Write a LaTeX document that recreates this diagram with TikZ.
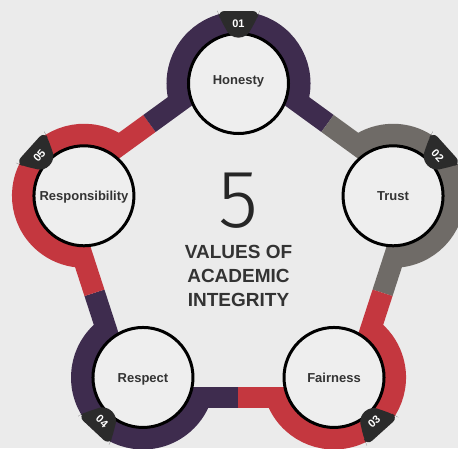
\documentclass[tikz,border=0pt]{standalone}
\usepackage{fontspec}
\setmainfont{Liberation Sans}
\newfontfamily\fivefont{Fira Sans Light}
\usetikzlibrary{calc}
\definecolor{bg}{HTML}{EBEBEB}
\definecolor{cfill}{HTML}{EEEEEE}
\definecolor{cpur}{HTML}{3E2C4E}
\definecolor{cred}{HTML}{C4373F}
\definecolor{cgray}{HTML}{6F6B67}
\definecolor{cbadge}{HTML}{2B2B2B}
\definecolor{ctext}{HTML}{333333}
\newcommand\myband[4]{%
  \path ($(#1)!20pt!90:(#2)$) coordinate (ba)
        ($(#2)!20pt!-90:(#1)$) coordinate (bb);
  \path ($(ba)!0.5!(bb)$) coordinate (bm);
  \draw[bandline,#3] (ba) -- (bm);
  \draw[bandline,#4] (bm) -- (bb);}
\newcommand\myring[3]{%
  \draw[bandline,#3] ($(#1)+(#2-107:61.5)$) arc[start angle=#2-107, end angle=#2+107, radius=61.5];}
\newcommand\mybadge[5]{%
  \begin{scope}[shift={($(#1)+(#2:60)$)}, rotate=#2-90]
    \fill[cbadge, rounded corners=7pt] (-21,12.5) -- (21,12.5) -- (19,6) -- (8,-14) -- (-8,-14) -- (-19,6) -- cycle;
  \end{scope}
  \node[badgetext, rotate=#3] (#5) at ($(#1)+(#2:60)$) {#4};}
\begin{document}
\begin{tikzpicture}[x=1pt,y=1pt,
  bandline/.style={line width=21pt, line cap=butt},
  valbox/.style={circle, draw=black, line width=3pt, fill=cfill, minimum size=100pt, inner sep=0pt},
  vallabel/.style={text=ctext, font=\bfseries\fontsize{13}{13}\selectfont, anchor=base, inner sep=0pt},
  badgetext/.style={text=white, font=\bfseries\fontsize{11}{11}\selectfont, inner sep=0pt},
  title/.style={text=ctext, font=\bfseries\fontsize{19}{19}\selectfont, anchor=base, inner sep=0pt}]
\clip (-238.5,-202) rectangle (219.5,246);
\fill[bg] (-238.5,-202) rectangle (219.5,246);
\coordinate (v1) at (90:162.5);
\coordinate (v2) at (18:162.5);
\coordinate (v3) at (-54:162.5);
\coordinate (v4) at (-126:162.5);
\coordinate (v5) at (162:162.5);
% bands
\myband{v1}{v2}{cpur}{cgray}
\myband{v2}{v3}{cgray}{cred}
\myband{v3}{v4}{cred}{cpur}
\myband{v4}{v5}{cpur}{cred}
\myband{v5}{v1}{cred}{cpur}
% rings
\myring{v1}{90}{cpur}
\myring{v2}{18}{cgray}
\myring{v3}{-54}{cred}
\myring{v4}{-126}{cpur}
\myring{v5}{162}{cred}
% circles
\node[valbox] (n1) at (v1) {};
\node[valbox] (n2) at (v2) {};
\node[valbox] (n3) at (v3) {};
\node[valbox] (n4) at (v4) {};
\node[valbox] (n5) at (v5) {};
\node[vallabel] (l1) at ($(n1.center)+(0,-1)$) {Honesty};
\node[vallabel] (l2) at ($(n2.center)+(0,-5)$) {Trust};
\node[vallabel] (l3) at ($(n3.center)+(0,-5)$) {Fairness};
\node[vallabel] (l4) at ($(n4.center)+(0,-5)$) {Respect};
\node[vallabel] (l5) at ($(n5.center)+(0,-5)$) {Responsibility};
% badges
\mybadge{v1}{90}{0}{01}{b1}
\mybadge{v2}{42}{-48}{02}{b2}
\mybadge{v3}{-48}{42}{03}{b3}
\mybadge{v4}{227}{-43}{04}{b4}
\mybadge{v5}{138}{48}{05}{b5}
% centre text
\node[text=black!85, font=\fivefont\fontsize{82}{82}\selectfont, anchor=base, inner sep=0pt] (five) at (0,19) {5};
\node[title] (t1) at (0,-12) {VALUES OF};
\node[title] (t2) at (0,-36) {ACADEMIC};
\node[title] (t3) at (0,-60) {INTEGRITY};
\end{tikzpicture}
\end{document}
